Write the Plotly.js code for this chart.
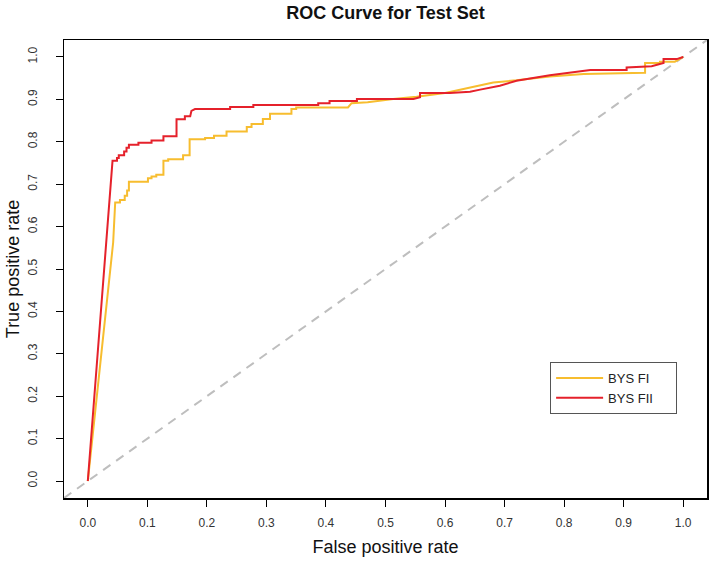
<!DOCTYPE html>
<html>
<head>
<meta charset="utf-8">
<script src="https://cdn.plot.ly/plotly-3.0.1.min.js"></script>
<style>html,body{margin:0;padding:0;background:#fff;}#chart{width:709px;height:565px;}</style>
</head>
<body>
<div id="chart"></div>
<script>
// BYS FI (yellow) ROC curve vertices
var fiX = [0, 0.0286, 0.0426, 0.046, 0.054, 0.054, 0.062, 0.062, 0.066, 0.066, 0.069, 0.069, 0.101, 0.101, 0.107, 0.107, 0.115, 0.115, 0.127, 0.127, 0.135, 0.135, 0.160, 0.160, 0.171, 0.171, 0.197, 0.197, 0.212, 0.212, 0.233, 0.233, 0.267, 0.267, 0.275, 0.275, 0.294, 0.294, 0.306, 0.306, 0.342, 0.342, 0.350, 0.350, 0.437, 0.443, 0.470, 0.513, 0.552, 0.600, 0.659, 0.681, 0.720, 0.776, 0.833, 0.936, 0.936, 0.961, 0.961, 0.986, 1];
var fiY = [0, 0.382, 0.563, 0.657, 0.657, 0.663, 0.663, 0.673, 0.673, 0.685, 0.685, 0.706, 0.706, 0.714, 0.714, 0.718, 0.718, 0.722, 0.722, 0.755, 0.755, 0.759, 0.759, 0.768, 0.768, 0.806, 0.806, 0.809, 0.809, 0.814, 0.814, 0.824, 0.824, 0.835, 0.835, 0.842, 0.842, 0.854, 0.854, 0.866, 0.866, 0.877, 0.877, 0.881, 0.881, 0.891, 0.893, 0.901, 0.906, 0.915, 0.932, 0.940, 0.945, 0.954, 0.960, 0.963, 0.986, 0.986, 0.989, 0.989, 1];
// BYS FII (red) ROC curve vertices
var fiiX = [0, 0.0415, 0.049, 0.049, 0.052, 0.052, 0.061, 0.061, 0.065, 0.065, 0.069, 0.069, 0.085, 0.085, 0.107, 0.107, 0.127, 0.127, 0.149, 0.149, 0.163, 0.163, 0.172, 0.174, 0.180, 0.239, 0.239, 0.278, 0.278, 0.387, 0.387, 0.406, 0.406, 0.452, 0.452, 0.547, 0.558, 0.558, 0.608, 0.642, 0.659, 0.692, 0.720, 0.776, 0.844, 0.905, 0.905, 0.947, 0.967, 0.967, 0.989, 1];
var fiiY = [0, 0.755, 0.755, 0.762, 0.762, 0.768, 0.768, 0.777, 0.777, 0.786, 0.786, 0.793, 0.793, 0.798, 0.798, 0.803, 0.803, 0.813, 0.813, 0.853, 0.853, 0.860, 0.860, 0.873, 0.877, 0.877, 0.882, 0.882, 0.887, 0.887, 0.891, 0.891, 0.896, 0.896, 0.901, 0.901, 0.905, 0.915, 0.915, 0.918, 0.923, 0.932, 0.944, 0.957, 0.969, 0.969, 0.975, 0.978, 0.986, 0.995, 0.995, 1];
// chance diagonal
var diagX = [-0.04, 1.04];
var diagY = [-0.04, 1.04];
var tickVals = [0, 0.1, 0.2, 0.3, 0.4, 0.5, 0.6, 0.7, 0.8, 0.9, 1.0];
var tickText = ["0.0", "0.1", "0.2", "0.3", "0.4", "0.5", "0.6", "0.7", "0.8", "0.9", "1.0"];
var seriesNames = ["BYS FI", "BYS FII"];

var FONT = "Liberation Sans, Arial, sans-serif";
var PAD = "\u00a0\u00a0\u00a0\u00a0\u00a0";
var traces = [
  {x: diagX, y: diagY, mode: "lines", showlegend: false, hoverinfo: "skip",
   line: {color: "#BEBEBE", width: 2, dash: "9px,7px"}},
  {x: fiX, y: fiY, mode: "lines", name: seriesNames[0] + PAD, line: {color: "#F7BD2F", width: 2}},
  {x: fiiX, y: fiiY, mode: "lines", name: seriesNames[1] + PAD, line: {color: "#E5212B", width: 2}}
];
var axisCommon = {
  range: [-0.04, 1.04], autorange: false, showgrid: false, zeroline: false,
  showline: true, mirror: true, linecolor: "#000", linewidth: 1.5,
  ticks: "outside", ticklen: 7, tickwidth: 1, tickcolor: "#000",
  tickmode: "array", tickvals: tickVals, ticktext: tickText,
  tickfont: {family: FONT, size: 12, color: "#333"}
};
var layout = {
  width: 709, height: 565,
  margin: {l: 64, r: 2, t: 40, b: 67, pad: 0},
  paper_bgcolor: "#fff", plot_bgcolor: "#fff",
  font: {family: FONT},
  title: {text: "<b>ROC Curve for Test Set</b>", font: {family: FONT, size: 18, color: "#111"},
          x: 0.5, xref: "paper", xanchor: "center", y: 0.977, yref: "container", yanchor: "middle"},
  xaxis: Object.assign({}, axisCommon, {
    ticklabelstandoff: 6,
    title: {text: "False positive rate", font: {family: FONT, size: 18, color: "#111"}, standoff: 11}
  }),
  yaxis: Object.assign({}, axisCommon, {
    tickangle: -90, ticklabelstandoff: 14,
    title: {text: "True positive rate", font: {family: FONT, size: 18, color: "#111"}, standoff: 1}
  }),
  showlegend: true,
  legend: {x: 0.756, y: 0.297, xanchor: "left", yanchor: "top", xref: "paper", yref: "paper",
           bordercolor: "#555", borderwidth: 1, bgcolor: "#fff",
           font: {family: FONT, size: 13, color: "#222"}, tracegroupgap: 0, itemwidth: 47}
};
Plotly.newPlot("chart", traces, layout, {displayModeBar: false, staticPlot: true});
</script>
</body>
</html>
